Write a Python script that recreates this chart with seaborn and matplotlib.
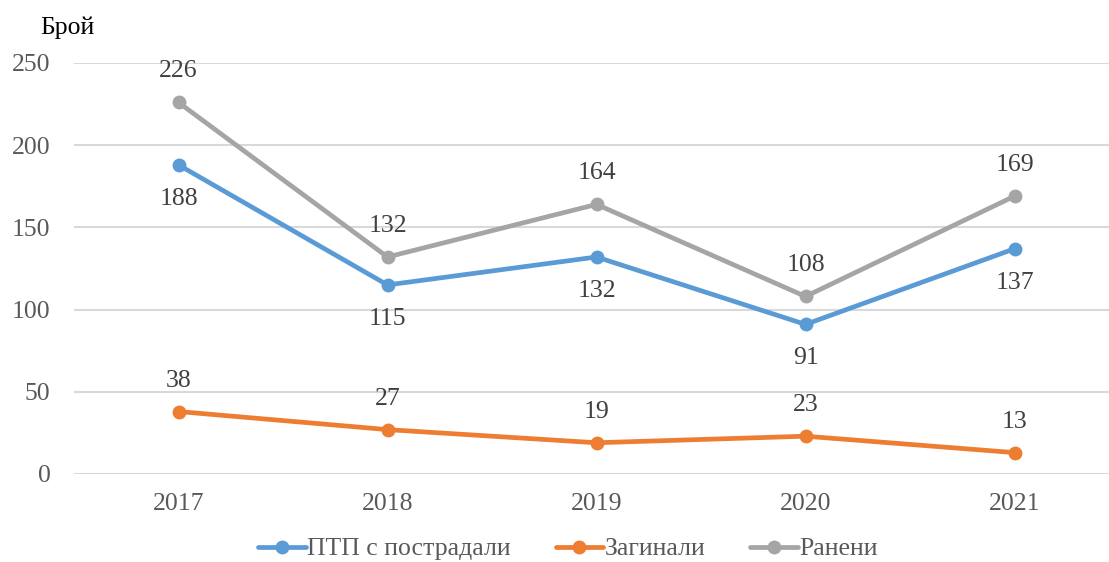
import pandas as pd
import matplotlib
matplotlib.use('Agg')
import matplotlib.pyplot as plt
import seaborn as sns

years = ['2017', '2018', '2019', '2020', '2021']
ptp = [188, 115, 132, 91, 137]
zaginali = [38, 27, 19, 23, 13]
raneni = [226, 132, 164, 108, 169]
series_names = ['ПТП с пострадали', 'Загинали', 'Ранени']
colors = ['#5B9BD5', '#ED7D31', '#A5A5A5']

# дълъг формат за seaborn
data = pd.DataFrame({
    'year': years * 3,
    'value': ptp + zaginali + raneni,
    'series': [s for s in series_names for _ in years],
})

sns.set_style('white')
plt.rcParams['font.family'] = ['Liberation Serif', 'DejaVu Serif']
FS = 18.5

fig = plt.figure(figsize=(11.09, 5.62), dpi=100)
ax = fig.add_axes([74 / 1109, 1 - 474 / 562, 1045 / 1109, 411 / 562])

sns.lineplot(data=data, x='year', y='value', hue='series', palette=colors,
             hue_order=series_names, marker='o', markersize=10,
             markeredgewidth=0, linewidth=3.4, ax=ax, legend=False, sort=False)

# подписи на стойностите
for vals, below in [(ptp, True), (zaginali, False), (raneni, False)]:
    for i, v in enumerate(vals):
        off = -34 if below else 31
        ax.annotate(str(v), (i, v), xytext=(0, off), textcoords='offset pixels',
                    ha='center', va='center', fontsize=FS, color='#404040')

ax.set_xlim(-0.5, 4.5)
ax.set_ylim(0, 250)
ax.set_yticks(range(0, 251, 50))
ax.grid(axis='y', color='#D9D9D9', linewidth=1.5)
ax.set_axisbelow(True)
for s in ax.spines.values():
    s.set_visible(False)
ax.tick_params(axis='both', length=0, labelsize=FS, labelcolor='#595959')
ax.tick_params(axis='y', pad=17)
ax.tick_params(axis='x', pad=14)
ax.set_xlabel('')
ax.set_ylabel('')

fig.text(40 / 1109, 1 - 28 / 562, 'Брой', fontsize=FS, color='black', va='center')

handles = [plt.Line2D([], [], color=c, marker='o', markersize=10, linewidth=3.4,
                      markeredgewidth=0) for c in colors]
fig.legend(handles, series_names, loc='center', bbox_to_anchor=(0.512, 1 - 549 / 562),
           ncol=3, frameon=False, fontsize=FS, handlelength=1.85, handletextpad=0.05,
           columnspacing=1.75, labelcolor='#595959')

fig.savefig('out.png', dpi=100)
